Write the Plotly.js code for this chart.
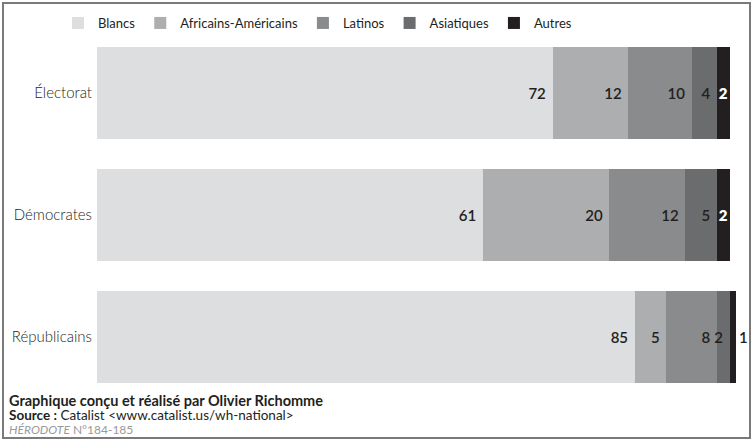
<!DOCTYPE html>
<html>
<head>
<meta charset="utf-8">
<script src="https://cdn.plot.ly/plotly-3.0.1.min.js"></script>
<style>html,body{margin:0;padding:0;background:#fff;}#chart{width:754px;height:442px;}</style>
</head>
<body>
<div id="chart"></div>
<script>
const categories = ["Électorat", "Démocrates", "Républicains"];
const seriesNames = ["Blancs", "Africains-Américains", "Latinos", "Asiatiques", "Autres"];
const blancs = [72, 61, 85];
const africains = [12, 20, 5];
const latinos = [10, 12, 8];
const asiatiques = [4, 5, 2];
const autres = [2, 2, 1];
const seriesValues = [blancs, africains, latinos, asiatiques, autres];
const colors = ["#dcdee0", "#acaeb0", "#898b8d", "#6a6c6e", "#231f20"];

const W = 754, H = 442;
const M = {l: 97, r: 18, t: 32, b: 44, autoexpand: false};
const pw = W - M.l - M.r, ph = H - M.t - M.b;
const px2x = p => (p - M.l) / pw;
const px2y = p => (H - M.b - p) / ph;

const FONT = "Lato, 'Noto Sans', sans-serif";
const NUMFONT = {family: FONT, size: 15, color: "#231f20", weight: 600};

const traces = seriesNames.map((name, i) => {
  const last = i === seriesNames.length - 1;
  const t = {
    type: "bar",
    orientation: "h",
    name: name,
    y: categories,
    x: seriesValues[i],
    marker: {color: colors[i], line: {width: 0}},
    text: seriesValues[i].map(String),
    texttemplate: "%{text}\u00a0",
    textposition: "inside",
    insidetextanchor: "end",
    constraintext: "none",
    textangle: 0,
    insidetextfont: NUMFONT,
    cliponaxis: false,
    hoverinfo: "skip"
  };
  if (last) {
    t.texttemplate = "%{text}";
    t.textposition = seriesValues[i].map(v => v >= 2 ? "inside" : "outside");
    t.insidetextanchor = "middle";
    t.insidetextfont = {family: FONT, size: 15, color: "#ffffff", weight: 800};
    t.outsidetextfont = {family: FONT, size: 15, color: "#231f20", weight: 600};
  }
  return t;
});

const layout = {
  width: W, height: H,
  margin: M,
  barmode: "stack",
  bargap: 0.246,
  paper_bgcolor: "#ffffff",
  plot_bgcolor: "#ffffff",
  showlegend: true,
  legend: {
    orientation: "h",
    x: px2x(58), xanchor: "left",
    y: px2y(23), yanchor: "middle",
    font: {family: FONT, size: 13, color: "#231f20"},
    bgcolor: "rgba(0,0,0,0)",
    traceorder: "normal",
    itemclick: false
  },
  xaxis: {
    range: [0, 101],
    showgrid: false, zeroline: false, showticklabels: false, showline: false, ticks: ""
  },
  yaxis: {
    categoryorder: "array",
    categoryarray: categories,
    autorange: "reversed",
    showgrid: false, zeroline: false, showline: false, ticks: "",
    ticklabelstandoff: 4,
    tickfont: {family: FONT, size: 15, color: "#231f20", weight: 300}
  },
  shapes: [{
    type: "rect", xref: "paper", yref: "paper",
    x0: px2x(3), x1: px2x(750), y0: px2y(3), y1: px2y(438),
    line: {color: "#7a7a7a", width: 2}, fillcolor: "rgba(0,0,0,0)", layer: "below"
  }],
  annotations: [
    {xref: "paper", yref: "paper", x: px2x(7), y: px2y(401), xanchor: "left", yanchor: "middle",
     showarrow: false, align: "left",
     text: "<b>Graphique conçu et réalisé par Olivier Richomme</b>",
     font: {family: FONT, size: 14.5, color: "#231f20"}},
    {xref: "paper", yref: "paper", x: px2x(7), y: px2y(415), xanchor: "left", yanchor: "middle",
     showarrow: false, align: "left",
     text: "<b>Source :</b> Catalist &lt;www.catalist.us/wh-national&gt;",
     font: {family: FONT, size: 13.5, color: "#231f20"}},
    {xref: "paper", yref: "paper", x: px2x(7), y: px2y(429), xanchor: "left", yanchor: "middle",
     showarrow: false, align: "left",
     text: "<i>HÉRODOTE</i> N°184-185",
     font: {family: FONT, size: 12, color: "#9a9a9a"}}
  ]
};

Plotly.newPlot("chart", traces, layout, {displayModeBar: false, staticPlot: true});
</script>
</body>
</html>
